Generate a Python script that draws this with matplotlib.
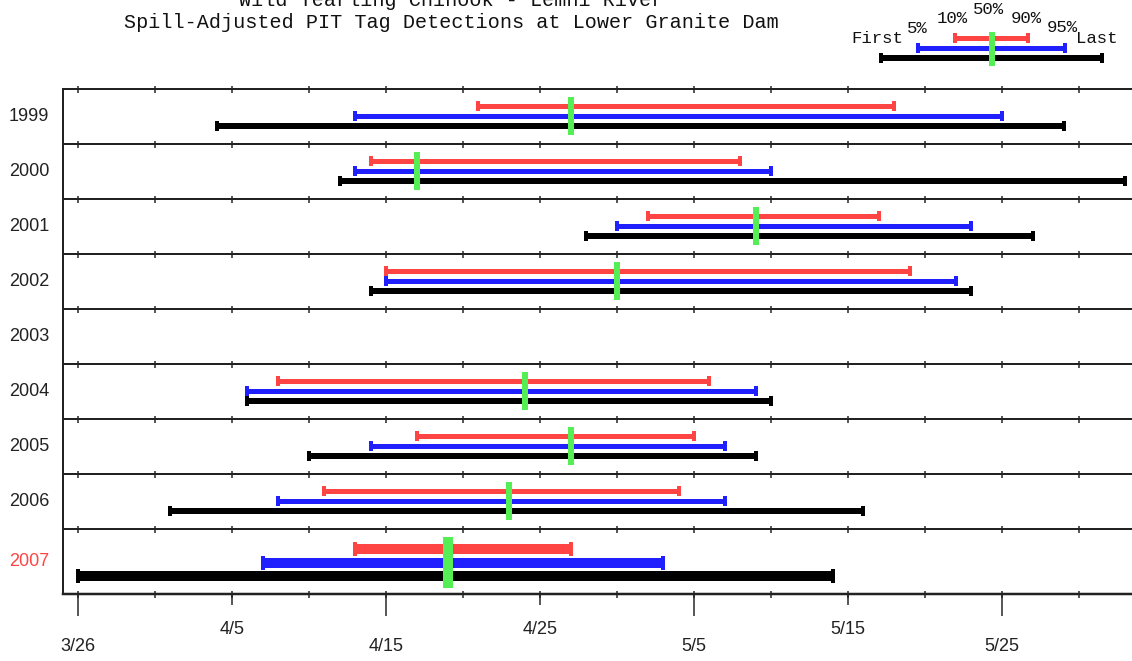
import matplotlib
matplotlib.use("Agg")
import matplotlib.pyplot as plt
from datetime import date

# ---------------- data ----------------
years = ["1999", "2000", "2001", "2002", "2003", "2004", "2005", "2006", "2007"]
first = ["4/4", "4/12", "4/28", "4/14", None, "4/6", "4/10", "4/1", "3/26"]
p5    = ["4/13", "4/13", "4/30", "4/15", None, "4/6", "4/14", "4/8", "4/7"]
p10   = ["4/21", "4/14", "5/2", "4/15", None, "4/8", "4/17", "4/11", "4/13"]
p50   = ["4/27", "4/17", "5/9", "4/30", None, "4/24", "4/27", "4/23", "4/19"]
p90   = ["5/18", "5/8", "5/17", "5/19", None, "5/6", "5/5", "5/4", "4/27"]
p95   = ["5/25", "5/10", "5/23", "5/22", None, "5/9", "5/7", "5/7", "5/3"]
last  = ["5/29", "6/2", "5/27", "5/23", None, "5/10", "5/9", "5/16", "5/14"]

tick_dates_low = ["3/26", "4/15", "5/5", "5/25"]
tick_dates_high = ["4/5", "4/25", "5/15"]
legend_labels = ["First", "5%", "10%", "50%", "90%", "95%", "Last"]

title1 = "Wild Yearling Chinook - Lemhi River"
title2 = "Spill-Adjusted PIT Tag Detections at Lower Granite Dam"

BASE = date(2007, 3, 26)


def day(s):
    m, d = s.split("/")
    return (date(2007, int(m), int(d)) - BASE).days


RED = "#ff4444"
BLUE = "#2020ff"
BLACK = "#000000"
GREEN = "#55ee55"
FRAME = "#222222"

W, H = 1132, 661
fig = plt.figure(figsize=(W / 100, H / 100), dpi=100)
px = 72 / 100  # points per pixel

panel_h = [55] * 8 + [65]
gs = fig.add_gridspec(len(years), 1, height_ratios=panel_h,
                      left=63 / W, right=1.0, top=1 - 89 / H,
                      bottom=1 - 594 / H, hspace=0)

XMIN, XMAX = -0.97, 68.44
five_day = list(range(0, 70, 5))

mono = "Liberation Mono"
sans = "Liberation Sans"


def draw_bar(ax, x0, x1, y, color, lw, caph, capw):
    ax.hlines(y, x0, x1, color=color, lw=lw * px, capstyle="butt", clip_on=False)
    ax.plot([x0, x1], [y, y], ls="none", marker="|", ms=caph * px,
            mew=capw * px, color=color, clip_on=False)


for i, yr in enumerate(years):
    ax = fig.add_subplot(gs[i])
    ax.set_xlim(XMIN, XMAX)
    ax.set_ylim(1, 0)
    ax.set_yticks([])
    for s in ["right", "bottom"]:
        ax.spines[s].set_visible(False)
    for s in ["top", "left"]:
        ax.spines[s].set_linewidth(2 * px)
        ax.spines[s].set_color(FRAME)
    ax.xaxis.set_ticks_position("top")
    ax.set_xticks(five_day)
    ax.tick_params(axis="x", direction="inout", length=7 * px, width=1.5 * px,
                   color=FRAME, labeltop=False, labelbottom=False)

    last_panel = (i == len(years) - 1)
    pos = ax.get_position()
    fig.text(29 / W, pos.y0 + pos.height / 2, yr,
             ha="center", va="center", fontsize=13, family=sans,
             color=RED if last_panel else "#222222")

    if first[i] is not None:
        if last_panel:
            yr_red, yr_blue, yr_black, g0, g1 = 0.30, 0.52, 0.73, 0.12, 0.90
            lw_rb, lw_k, caph, gw = 10, 10, 14, 10
        else:
            yr_red, yr_blue, yr_black, g0, g1 = 0.31, 0.49, 0.67, 0.14, 0.84
            lw_rb, lw_k, caph, gw = 5, 6, 10, 6
        draw_bar(ax, day(first[i]), day(last[i]), yr_black, BLACK, lw_k, caph, 4)
        draw_bar(ax, day(p5[i]), day(p95[i]), yr_blue, BLUE, lw_rb, caph, 4)
        draw_bar(ax, day(p10[i]), day(p90[i]), yr_red, RED, lw_rb, caph, 4)
        ax.vlines(day(p50[i]), g0, g1, color=GREEN, lw=gw * px, zorder=5)

    if last_panel:
        # short ticks every 5 days on bottom line
        sec1 = ax.secondary_xaxis("bottom")
        sec1.set_xticks(five_day)
        sec1.tick_params(direction="inout", length=7 * px, width=1.5 * px,
                         color=FRAME, labelbottom=False)
        sec1.spines["bottom"].set_linewidth(2.5 * px)
        sec1.spines["bottom"].set_color(FRAME)
        # labelled ticks, staggered
        sec2 = ax.secondary_xaxis("bottom")
        sec2.spines["bottom"].set_visible(False)
        sec2.set_xticks([day(d) for d in tick_dates_low])
        sec2.set_xticklabels(tick_dates_low)
        sec2.set_xticks([day(d) for d in tick_dates_high], minor=True)
        sec2.set_xticklabels(tick_dates_high, minor=True)
        sec2.tick_params(which="major", direction="out", length=22 * px,
                         width=1.5 * px, color=FRAME, pad=22 * px,
                         labelsize=13)
        sec2.tick_params(which="minor", direction="out", length=11 * px,
                         width=1.5 * px, color=FRAME, pad=16 * px,
                         labelsize=13)
        for lab in sec2.get_xticklabels(which="both"):
            lab.set_family(sans)
            lab.set_color("#222222")

# ---------------- legend key ----------------
lax = fig.add_axes([881 / W, 1 - 76 / H, (1102 - 881) / W, 55 / H])
lax.set_xlim(0, 6)
lax.set_ylim(1, 0)
lax.axis("off")
draw_bar(lax, 0, 6, 0.67, BLACK, 6, 10, 4)
draw_bar(lax, 1, 5, 0.49, BLUE, 5, 10, 4)
draw_bar(lax, 2, 4, 0.31, RED, 5, 10, 4)
lax.vlines(3, 0.20, 0.82, color=GREEN, lw=6 * px, zorder=5, clip_on=False)
leg_x = [-0.1, 0.98, 1.93, 2.92, 3.95, 4.92, 5.86]
leg_y = [0.31, 0.13, -0.04, -0.2, -0.04, 0.11, 0.31]
for lbl, lx, ly in zip(legend_labels, leg_x, leg_y):
    lax.text(lx, ly, lbl, ha="center", va="center", fontsize=12.5,
             family=mono, color="#111111", clip_on=False)

# ---------------- titles ----------------
fig.text(451 / W, 1 - 1 / H, title1, ha="center", va="center",
         fontsize=14.5, family=mono, color="#111111")
fig.text(451 / W, 1 - 22 / H, title2, ha="center", va="center",
         fontsize=14.5, family=mono, color="#111111")

fig.savefig("out.png", dpi=100)
